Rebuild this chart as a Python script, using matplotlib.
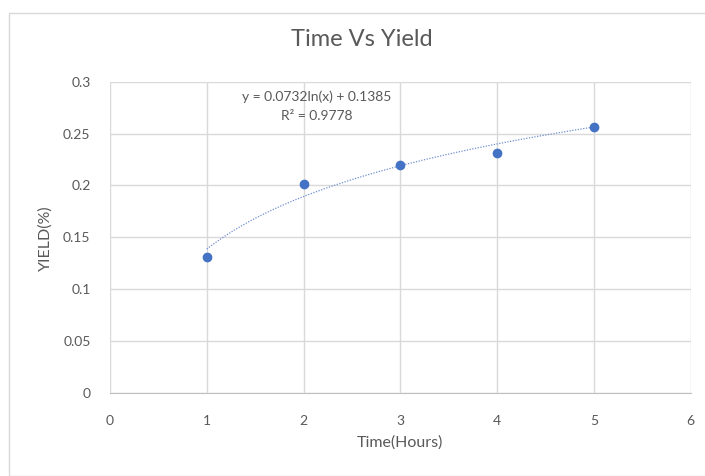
import numpy as np
import matplotlib
matplotlib.use("Agg")
import matplotlib.pyplot as plt
from matplotlib.patches import Rectangle

# Data
time_hours = [1, 2, 3, 4, 5]
yield_pct = [0.131, 0.201, 0.220, 0.2315, 0.2566]
trend_a = 0.0732
trend_b = 0.1385
eq_text = "y = 0.0732ln(x) + 0.1385"
r2_text = "R² = 0.9778"
x_ticks = [0, 1, 2, 3, 4, 5, 6]
y_ticks = [0, 0.05, 0.1, 0.15, 0.2, 0.25, 0.3]
y_tick_labels = ["0", "0.05", "0.1", "0.15", "0.2", "0.25", "0.3"]

plt.rcParams['font.family'] = ['Lato', 'DejaVu Sans']

W, H = 705, 476
fig = plt.figure(figsize=(W / 100, H / 100), dpi=100)
fig.patch.set_facecolor("white")

# outer chart border
fig.patches.append(Rectangle((9 / W, 0), 1.0, 1 - 13 / H, transform=fig.transFigure,
                             fill=False, edgecolor="#d9d9d9", linewidth=1.0))

ax = fig.add_axes([110 / W, 1 - 392.7 / H, (690.6 - 110) / W, (392.7 - 81.7) / H])
ax.set_xlim(0, 6)
ax.set_ylim(0, 0.3)
ax.set_xticks(x_ticks)
ax.set_yticks(y_ticks)
ax.set_yticklabels(y_tick_labels)
ax.grid(True, color="#d9d9d9", linewidth=1.0)
ax.set_axisbelow(True)
for s in ["top", "right", "left"]:
    ax.spines[s].set_visible(False)
ax.spines["bottom"].set_color("#bfbfbf")
ax.tick_params(length=0, labelsize=10, colors="#595959")
ax.tick_params(axis="x", pad=16)
ax.tick_params(axis="y", pad=14)

# trendline
xt = np.linspace(time_hours[0], time_hours[-1], 200)
ax.plot(xt, trend_a * np.log(xt) + trend_b, linestyle=(0, (1, 1.2)), color="#6f8fd0",
        linewidth=0.9, zorder=2)
ax.plot(time_hours, yield_pct, "o", color="#4472C4", markersize=6, zorder=3)

ax.text(2.14, 0.2855, eq_text, ha="center", va="center", fontsize=10, color="#595959")
ax.text(2.14, 0.2665, r2_text, ha="center", va="center", fontsize=10, color="#595959")

fig.text(362 / W, 1 - 40 / H, "Time Vs Yield", ha="center", va="center",
         fontsize=17, color="#595959")
fig.text(400 / W, 1 - 443 / H, "Time(Hours)", ha="center", va="center",
         fontsize=11.5, color="#595959")
fig.text(45 / W, 1 - 238 / H, "YIELD(%)", ha="center", va="center", rotation=90,
         fontsize=11.5, color="#595959")

fig.savefig("out.png", dpi=100)
